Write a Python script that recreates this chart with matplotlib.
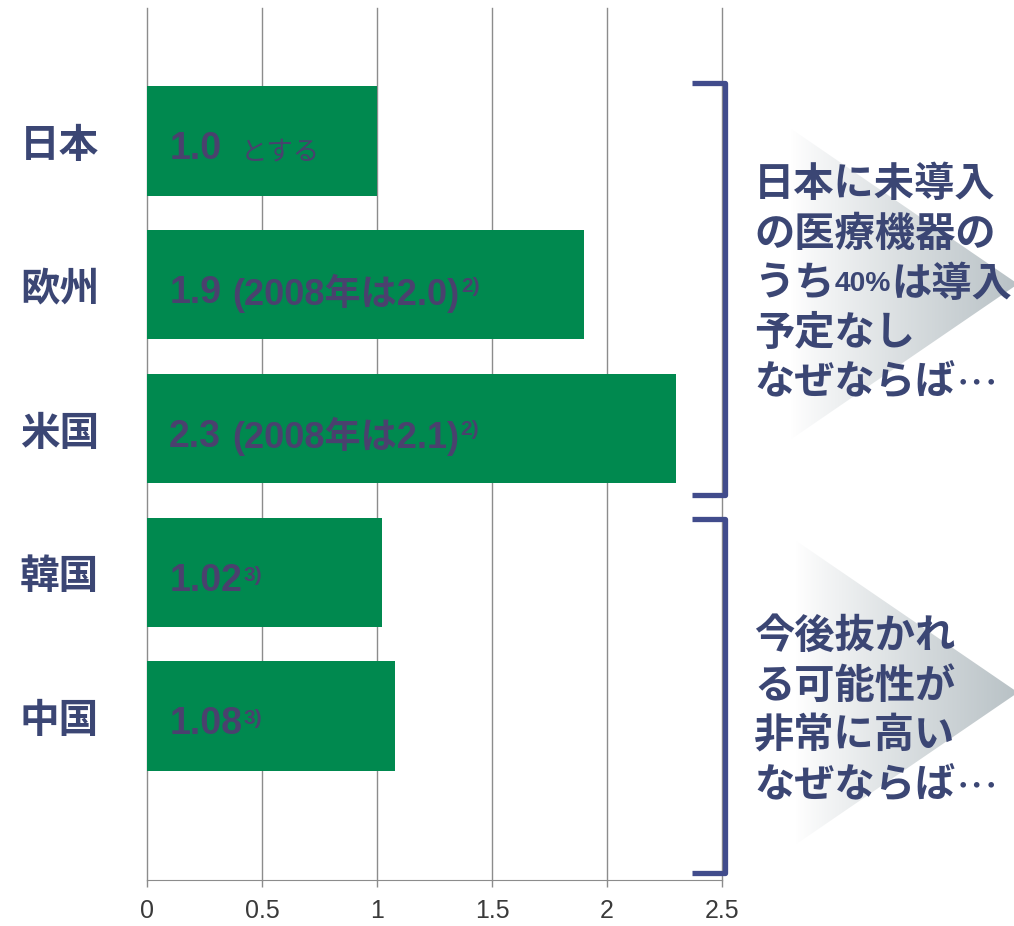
import matplotlib
matplotlib.use("Agg")
import matplotlib.pyplot as plt
import numpy as np
from matplotlib.patches import Polygon

# ---- data ----
categories = ["日本", "欧州", "米国", "韓国", "中国"]
values = [1.0, 1.9, 2.3, 1.02, 1.08]
value_labels = ["1.0", "1.9", "2.3", "1.02", "1.08"]
value_notes = ["とする", "(2008年は2.0)", "(2008年は2.1)", "", ""]
note_refs = ["", "2)", "2)", "3)", "3)"]
xticks = [0, 0.5, 1, 1.5, 2, 2.5]
xtick_labels = ["0", "0.5", "1", "1.5", "2", "2.5"]
block1_lines = [["日本に未導入"], ["の医療機器の"], ["うち", "40%", "は導入"], ["予定なし"], ["なぜならば", "･･･"]]
block2_lines = [["今後抜かれ"], ["る可能性が"], ["非常に高い"], ["なぜならば", "･･･"]]

W, H = 1014, 926
fig = plt.figure(figsize=(W / 100, H / 100), dpi=100)
fig.patch.set_facecolor("white")

CJK = ["Noto Sans CJK JP", "DejaVu Sans"]
LAT = ["Liberation Sans", "Noto Sans CJK JP", "DejaVu Sans"]
navy = "#3b4674"
txtc = "#4a416e"
green = "#00894f"

ax = fig.add_axes([147 / W, 1 - 880 / H, 575 / W, 872 / H])
ax.patch.set_alpha(0)
ypos = np.arange(len(categories))
ax.barh(ypos, values, height=0.76, color=green, zorder=3)
ax.set_xlim(0, 2.5)
ax.set_ylim(5.14, -0.925)
ax.set_xticks(xticks, xtick_labels)
ax.set_yticks(ypos, categories)
for lab in ax.get_yticklabels():
    lab.set_fontfamily(CJK)
    lab.set_fontsize(28.5)
    lab.set_fontweight("bold")
    lab.set_color(navy)
for lab in ax.get_xticklabels():
    lab.set_fontfamily(["Liberation Sans"])
    lab.set_fontsize(18)
    lab.set_color("#3a3a3a")
ax.tick_params(axis="y", left=False, pad=31)
ax.tick_params(axis="x", direction="out", length=5, width=1, color="#8c8c8c", pad=9)
ax.grid(axis="x", color="#8c8c8c", lw=1, zorder=0)
for gl in ax.get_xgridlines():
    gl.set_clip_on(False)
ax.set_axisbelow(True)
for s in ["top", "right", "left"]:
    ax.spines[s].set_visible(False)
ax.spines["bottom"].set_color("#8c8c8c")

# bar labels
for i in range(len(categories)):
    t = ax.annotate(value_labels[i], xy=(0, i), xytext=(16, -6), textcoords="offset points",
                    va="center", ha="left", fontsize=27, fontweight="bold", color=txtc,
                    family=LAT, zorder=5)
    last = t
    if value_notes[i]:
        if value_notes[i] == "とする":
            last = ax.annotate(value_notes[i], xy=(1, 0.42), xycoords=t, xytext=(14, 0),
                               textcoords="offset points", va="center", ha="left",
                               fontsize=19, color=txtc, family=CJK, zorder=5)
        else:
            last = ax.annotate(value_notes[i], xy=(1, 0.5), xycoords=t, xytext=(8, 0),
                               textcoords="offset points", va="center", ha="left",
                               fontsize=26, fontweight="bold", color=txtc, family=LAT, zorder=5)
    if note_refs[i]:
        ax.annotate(note_refs[i], xy=(1, 0.92), xycoords=last, xytext=(1, 0),
                    textcoords="offset points", va="top", ha="left",
                    fontsize=15, fontweight="bold", color=txtc, family=LAT, zorder=5)

# overlay (pixel coordinates) for brackets, triangles, notes
ov = fig.add_axes([0, 0, 1, 1], zorder=5)
ov.patch.set_alpha(0)
ov.axis("off")


def tri(x0, ytop, ybot, xtip):
    ymid = (ytop + ybot) / 2
    poly = Polygon([(x0, ytop), (x0, ybot), (xtip, ymid)], closed=True, fc="none", ec="none")
    ov.add_patch(poly)
    n = 256
    grad = np.zeros((1, n, 4))
    grad[..., 0] = 0.67
    grad[..., 1] = 0.71
    grad[..., 2] = 0.73
    grad[..., 3] = np.linspace(0.0, 0.82, n) ** 0.9
    im = ov.imshow(grad, extent=(x0, xtip, ybot, ytop), aspect="auto", zorder=1,
                   interpolation="bilinear")
    im.set_clip_path(poly)


tri(790, 128, 440, 1018)
tri(795, 540, 845, 1018)

bc = "#414c8c"
for (yt, yb) in [(83, 495), (519, 873)]:
    ov.plot([692, 725, 725, 692], [yt, yt, yb, yb], color=bc, lw=3.8,
            solid_joinstyle="round", solid_capstyle="butt", zorder=3)

RFS = 29


def draw_line(x, y, parts):
    prev = None
    for p in parts:
        if p == "40%":
            kw = dict(fontsize=RFS * 0.7, fontweight="bold", family=["Liberation Sans"])
        elif p == "･･･":
            kw = dict(fontsize=RFS * 0.72, fontweight="bold", family=CJK)
        else:
            kw = dict(fontsize=RFS, fontweight="bold", family=CJK)
        if prev is None:
            prev = ov.text(x, y, p, color=navy, va="center", ha="left", zorder=4, **kw)
        else:
            prev = ov.annotate(p, xy=(1, 0.5), xycoords=prev, va="center", ha="left",
                               color=navy, zorder=4, **kw)


for k, parts in enumerate(block1_lines):
    draw_line(754, 185 + 49.5 * k, parts)
for k, parts in enumerate(block2_lines):
    draw_line(754, 636 + 50 * k, parts)

ov.set_xlim(0, W)
ov.set_ylim(H, 0)

fig.savefig("out.png", dpi=100)
